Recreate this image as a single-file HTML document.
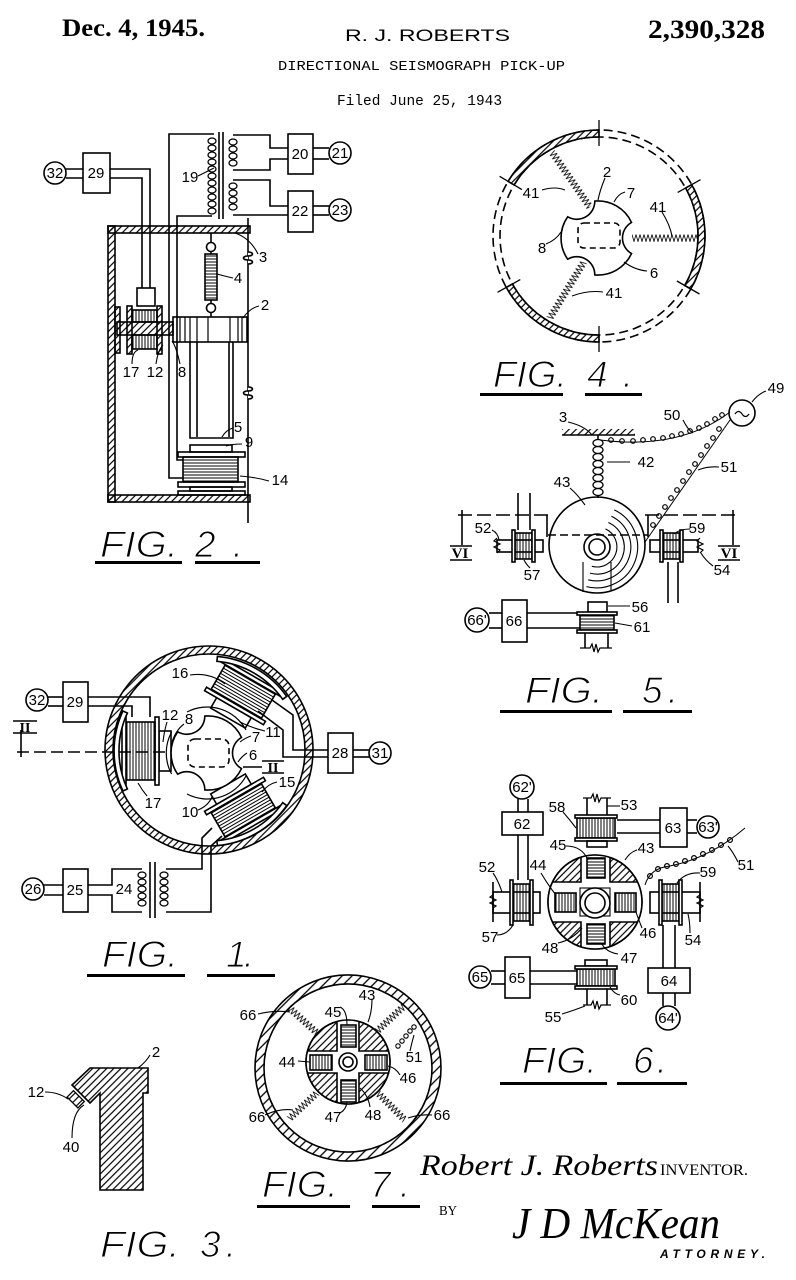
<!DOCTYPE html>
<html><head><meta charset="utf-8"><style>
html,body{margin:0;padding:0;background:#fff;}
svg{display:block;}
text{font-family:"Liberation Sans",sans-serif;fill:#000;stroke:none;}
.l{font-size:15px;text-anchor:middle;}
.fig{font-family:"Liberation Sans",sans-serif;font-style:italic;font-size:37px;stroke:#fff;stroke-width:1.1px;}
</style></head><body>
<svg width="796" height="1280" viewBox="0 0 796 1280" xmlns="http://www.w3.org/2000/svg">
<defs>
<pattern id="h" width="5" height="5" patternUnits="userSpaceOnUse" patternTransform="rotate(45)"><line x1="1" y1="0" x2="1" y2="5" stroke="#000" stroke-width="1.2"/></pattern>
<pattern id="h2" width="7" height="7" patternUnits="userSpaceOnUse" patternTransform="rotate(45)"><line x1="1" y1="0" x2="1" y2="7" stroke="#000" stroke-width="1.3"/></pattern>
<pattern id="sv" width="3" height="3" patternUnits="userSpaceOnUse"><line x1="1" y1="0" x2="1" y2="3" stroke="#000" stroke-width="1"/></pattern>
<pattern id="sh" width="3" height="3" patternUnits="userSpaceOnUse"><line x1="0" y1="1" x2="3" y2="1" stroke="#000" stroke-width="1"/></pattern>
<pattern id="zz" x="0" y="-4" width="4" height="8" patternUnits="userSpaceOnUse"><path d="M0,0.5 L2,7.5 L4,0.5" fill="none" stroke="#000" stroke-width="0.8"/></pattern>
<clipPath id="c6"><circle cx="595" cy="902" r="47"/></clipPath>
<clipPath id="c7"><circle cx="348" cy="1062" r="42"/></clipPath>
<path id="rotor" d="M-3.2,-36.9 A37,37 0 0 1 33.5,-15.6 A18,18 0 0 0 33.5,15.6 A37,37 0 0 1 -3.2,36.9 A18,18 0 0 0 -30.3,21.2 A37,37 0 0 1 -30.3,-21.2 A18,18 0 0 0 -3.2,-36.9 Z"/>
<g id="coil">
<rect x="38" y="-20" width="12" height="40" fill="#fff"/>
<rect x="50" y="-34" width="4" height="68" fill="#fff"/>
<rect x="54" y="-29" width="29" height="58" fill="url(#sv)"/>
<rect x="83" y="-34" width="4" height="68" fill="#fff"/>
<path d="M81.6,-38 A90,90 0 0 1 81.6,38 L86.1,40 A95,95 0 0 0 86.1,-40 Z" fill="#fff"/>
</g>
</defs>
<rect width="796" height="1280" fill="#fff"/>

<!-- HEADER -->
<text x="62" y="36" font-weight="bold" font-size="25" textLength="143" lengthAdjust="spacingAndGlyphs" style="font-family:'Liberation Serif',serif">Dec. 4, 1945.</text>
<text x="345" y="41" font-size="17" textLength="165" lengthAdjust="spacingAndGlyphs">R. J. ROBERTS</text>
<text x="648" y="38" font-weight="bold" font-size="26" textLength="117" lengthAdjust="spacingAndGlyphs" style="font-family:'Liberation Serif',serif">2,390,328</text>
<text x="278" y="70" font-size="14" textLength="287" lengthAdjust="spacingAndGlyphs" style="font-family:'Liberation Mono',monospace">DIRECTIONAL SEISMOGRAPH PICK-UP</text>
<text x="337" y="105" font-size="15" textLength="165" lengthAdjust="spacingAndGlyphs" style="font-family:'Liberation Mono',monospace">Filed June 25, 1943</text>

<g fill="none" stroke="#000" stroke-width="1.6">

<!-- ================= FIG 2 ================= -->
<rect x="108" y="226" width="142" height="7" fill="url(#h)"/>
<rect x="108" y="226" width="7" height="276" fill="url(#h)"/>
<rect x="108" y="495" width="142" height="7" fill="url(#h)"/>
<line x1="248" y1="218" x2="248" y2="523"/>
<path d="M248,252 c6,0 6,4 0,4 c-6,0 -6,4 0,4 c6,0 6,4 0,4" fill="#fff"/>
<path d="M248,387 c6,0 6,4 0,4 c-6,0 -6,4 0,4 c6,0 6,4 0,4" fill="#fff"/>
<rect x="115" y="307" width="5" height="46" fill="url(#h)"/>
<rect x="117" y="322" width="56" height="13" fill="url(#h)"/>
<rect x="132" y="310" width="25" height="12" fill="url(#sv)"/>
<rect x="132" y="335" width="25" height="14" fill="url(#sv)"/>
<rect x="127" y="306" width="5" height="48" fill="url(#h)"/>
<rect x="157" y="306" width="5" height="48" fill="url(#h)"/>
<rect x="137" y="288" width="18" height="18"/>
<polyline points="142,288 142,178 110,178"/>
<polyline points="150,288 150,169 110,169"/>
<rect x="83" y="153" width="27" height="40"/>
<circle cx="55" cy="173" r="11"/>
<line x1="66" y1="169" x2="83" y2="169"/><line x1="66" y1="178" x2="83" y2="178"/>
<polyline points="183,478 169,478 169,134 214,134"/>
<polyline points="183,460 177,460 177,216 212,216"/>
<g stroke-width="1.3">
<ellipse cx="212" cy="141" rx="4" ry="3"/><ellipse cx="212" cy="148" rx="4" ry="3"/><ellipse cx="212" cy="155" rx="4" ry="3"/><ellipse cx="212" cy="162" rx="4" ry="3"/><ellipse cx="212" cy="169" rx="4" ry="3"/><ellipse cx="212" cy="176" rx="4" ry="3"/><ellipse cx="212" cy="183" rx="4" ry="3"/><ellipse cx="212" cy="190" rx="4" ry="3"/><ellipse cx="212" cy="197" rx="4" ry="3"/><ellipse cx="212" cy="204" rx="4" ry="3"/><ellipse cx="212" cy="211" rx="4" ry="3"/>
<ellipse cx="233" cy="142" rx="4" ry="3"/><ellipse cx="233" cy="149" rx="4" ry="3"/><ellipse cx="233" cy="156" rx="4" ry="3"/><ellipse cx="233" cy="163" rx="4" ry="3"/>
<ellipse cx="233" cy="186" rx="4" ry="3"/><ellipse cx="233" cy="193" rx="4" ry="3"/><ellipse cx="233" cy="200" rx="4" ry="3"/><ellipse cx="233" cy="207" rx="4" ry="3"/>
</g>
<line x1="219" y1="132" x2="219" y2="219"/><line x1="223" y1="132" x2="223" y2="219"/>
<polyline points="233,135 270,135 270,148 288,148"/>
<polyline points="233,170 270,170 270,159 288,159"/>
<polyline points="233,180 270,180 270,206 288,206"/>
<polyline points="233,215 288,215"/>
<rect x="288" y="134" width="25" height="40"/>
<circle cx="340" cy="153" r="11"/>
<line x1="313" y1="148" x2="329" y2="148"/><line x1="313" y1="159" x2="329" y2="159"/>
<rect x="288" y="191" width="25" height="41"/>
<circle cx="340" cy="210" r="11"/>
<line x1="313" y1="206" x2="329" y2="206"/><line x1="313" y1="215" x2="329" y2="215"/>
<line x1="211" y1="233" x2="211" y2="242"/>
<circle cx="211" cy="247" r="4.5"/>
<line x1="211" y1="251" x2="211" y2="254"/>
<rect x="205" y="254" width="12" height="46" fill="url(#sh)"/>
<line x1="211" y1="300" x2="211" y2="304"/>
<circle cx="211" cy="308" r="4.5"/>
<line x1="211" y1="312" x2="211" y2="317"/>
<rect x="173" y="317" width="74" height="25"/>
<g stroke-width="1.2"><line x1="180" y1="317" x2="180" y2="342"/><line x1="185" y1="317" x2="185" y2="342"/><line x1="190" y1="317" x2="190" y2="342"/><line x1="197" y1="317" x2="197" y2="342"/><line x1="208" y1="317" x2="208" y2="342"/><line x1="230" y1="317" x2="230" y2="342"/><line x1="238" y1="317" x2="238" y2="342"/><line x1="242" y1="317" x2="242" y2="342"/></g>
<polyline points="190,342 190,438 233,438 233,342"/>
<line x1="197" y1="342" x2="197" y2="437"/><line x1="229" y1="342" x2="229" y2="437"/>
<rect x="190" y="445" width="42" height="7"/>
<rect x="178" y="452" width="67" height="5"/>
<rect x="183" y="457" width="55" height="25" fill="url(#sh)"/>
<rect x="178" y="482" width="67" height="5"/>
<rect x="190" y="487" width="42" height="4"/>
<rect x="178" y="491" width="67" height="4"/>
<g stroke-width="1.1">
<path d="M198,176 Q206,172 214,168"/>
<path d="M258,254 Q250,238 235,233"/>
<path d="M233,278 Q224,276 217,274"/>
<path d="M259,306 Q250,308 243,318"/>
<path d="M132,364 Q132,352 138,350"/>
<path d="M156,364 Q158,350 163,345"/>
<path d="M180,364 Q176,346 172,341"/>
<path d="M233,428 Q226,430 222,437"/>
<path d="M242,444 Q232,444 226,446"/>
<path d="M269,481 Q255,477 240,476"/>
</g>

<!-- ================= FIG 4 ================= -->
<circle cx="599" cy="236" r="106" stroke-dasharray="9 5"/>
<circle cx="599" cy="236" r="99" stroke-dasharray="9 5"/>
<path d="M508.1,181.4 A106,106 0 0 1 599,130 L599,137 A99,99 0 0 0 514.1,185 Z" fill="url(#h)"/>
<path d="M599,342 A106,106 0 0 1 506.3,287.4 L512.4,284 A99,99 0 0 0 599,335 Z" fill="url(#h)"/>
<path d="M691.7,184.6 A106,106 0 0 1 690.8,289 L684.7,285.5 A99,99 0 0 0 685.6,188 Z" fill="url(#h)"/>
<g stroke-width="1.3">
<line x1="599" y1="146" x2="599" y2="120"/><line x1="599" y1="326" x2="599" y2="352"/>
<line x1="521.9" y1="189.6" x2="499.6" y2="176.3"/><line x1="520.3" y1="279.6" x2="497.5" y2="292.3"/>
<line x1="677.7" y1="192.4" x2="700.5" y2="179.7"/><line x1="676.9" y1="281" x2="699.5" y2="294"/>
</g>
<use href="#rotor" transform="translate(598,238)" fill="#fff"/>
<rect x="578" y="223" width="42" height="25" rx="6" stroke-dasharray="6 4"/>
<rect x="0" y="-4" width="67" height="8" fill="url(#zz)" stroke="none" transform="translate(552,152) rotate(55.4)"/>
<rect x="0" y="-4" width="65" height="8" fill="url(#zz)" stroke="none" transform="translate(632,238)"/>
<rect x="0" y="-4" width="66" height="8" fill="url(#zz)" stroke="none" transform="translate(584,262) rotate(121.3)"/>
<g stroke-width="1.1">
<path d="M605,178 Q600,190 598,200"/>
<path d="M625,192 Q618,194 614,202"/>
<path d="M542,190 Q555,186 565,190"/>
<path d="M662,212 Q670,225 672,236"/>
<path d="M546,244 Q556,240 561,232"/>
<path d="M647,271 Q635,270 624,262"/>
<path d="M603,292 Q588,290 572,296"/>
</g>

<!-- ================= FIG 5 ================= -->
<line x1="562" y1="435" x2="635" y2="435"/>
<rect x="562" y="429" width="73" height="6" fill="url(#h)" stroke="none"/>
<path d="M568,422 Q585,426 592,435" stroke-width="1.1"/>
<line x1="598" y1="435" x2="598" y2="440"/>
<g stroke-width="1.3">
<ellipse cx="598" cy="443" rx="5" ry="3.5"/><ellipse cx="598" cy="450" rx="5" ry="3.5"/><ellipse cx="598" cy="457" rx="5" ry="3.5"/><ellipse cx="598" cy="464" rx="5" ry="3.5"/><ellipse cx="598" cy="471" rx="5" ry="3.5"/><ellipse cx="598" cy="478" rx="5" ry="3.5"/><ellipse cx="598" cy="485" rx="5" ry="3.5"/><ellipse cx="598" cy="492" rx="5" ry="3.5"/>
</g>
<line x1="598" y1="495" x2="598" y2="498"/>
<path d="M607,462 L630,462" stroke-width="1.1"/>
<circle cx="742" cy="413" r="13"/>
<path d="M735,414 q3.5,-5 7,0 q3.5,5 7,0" stroke-width="1.2"/>
<path d="M752,402 Q758,394 766,391" stroke-width="1.1"/>
<path d="M600,440 Q680,450 730,412" stroke-width="1"/>
<g stroke-width="1.2">
<circle cx="611" cy="440" r="2.3"/><circle cx="622" cy="441" r="2.3"/><circle cx="633" cy="441" r="2.3"/><circle cx="643" cy="440" r="2.3"/><circle cx="653" cy="439" r="2.3"/><circle cx="663" cy="438" r="2.3"/><circle cx="672" cy="436" r="2.3"/><circle cx="681" cy="434" r="2.3"/><circle cx="690" cy="431" r="2.3"/><circle cx="699" cy="428" r="2.3"/><circle cx="707" cy="424" r="2.3"/><circle cx="715" cy="419" r="2.3"/><circle cx="722" cy="415" r="2.3"/>
</g>
<path d="M683,420 Q688,430 693,433" stroke-width="1.1"/>
<path d="M730,420 L645,542" stroke-width="1"/>
<g stroke-width="1.2">
<circle cx="719" cy="429" r="2.3"/><circle cx="713" cy="438" r="2.3"/><circle cx="707" cy="446" r="2.3"/><circle cx="701" cy="455" r="2.3"/><circle cx="695" cy="464" r="2.3"/><circle cx="689" cy="472" r="2.3"/><circle cx="683" cy="481" r="2.3"/><circle cx="677" cy="490" r="2.3"/><circle cx="671" cy="498" r="2.3"/><circle cx="665" cy="507" r="2.3"/><circle cx="659" cy="516" r="2.3"/><circle cx="653" cy="525" r="2.3"/>
</g>
<path d="M719,467 Q708,466 698,470" stroke-width="1.1"/>
<circle cx="597" cy="545" r="48"/>
<circle cx="597" cy="547" r="13"/><circle cx="597" cy="547" r="8"/>
<g stroke-width="1.1">
<path d="M605.5,528.9 A20,20 0 0 1 591.8,566.3"/>
<path d="M608.4,522.5 A27,27 0 0 1 590,573.1"/>
<path d="M611.4,516.2 A34,34 0 0 1 588.2,579.8"/>
<path d="M614.3,509.9 A41,41 0 0 1 586.4,586.6"/>
<line x1="583" y1="562" x2="583" y2="592"/><line x1="611" y1="562" x2="611" y2="591"/>
</g>
<path d="M570,488 Q578,495 585,505" stroke-width="1.1"/>
<line x1="548" y1="535" x2="648" y2="535" stroke-dasharray="8 4"/>
<line x1="458" y1="515" x2="550" y2="515" stroke-dasharray="14 5"/>
<line x1="547" y1="515" x2="547" y2="537"/>
<line x1="462" y1="510" x2="462" y2="545"/>
<line x1="645" y1="515" x2="735" y2="515" stroke-dasharray="14 5"/>
<line x1="648" y1="515" x2="648" y2="537"/>
<line x1="733" y1="510" x2="733" y2="545"/>
<line x1="450" y1="546" x2="472" y2="546"/><line x1="450" y1="560" x2="472" y2="560"/>
<line x1="718" y1="546" x2="740" y2="546"/><line x1="718" y1="560" x2="740" y2="560"/>
<rect x="497" y="540" width="46" height="12" fill="#fff"/>
<rect x="515" y="533" width="17" height="26" fill="url(#sv)"/>
<rect x="512" y="530" width="3" height="32" fill="#fff"/><rect x="532" y="530" width="3" height="32" fill="#fff"/>
<line x1="518" y1="493" x2="518" y2="530"/><line x1="530" y1="493" x2="530" y2="530"/>
<path d="M497,538 l-3,3 l6,3 l-6,3 l6,3 l-3,3" stroke-width="1.2"/>
<path d="M492,530 Q498,533 499,540" stroke-width="1.1"/>
<path d="M530,568 Q526,564 524,560" stroke-width="1.1"/>
<rect x="650" y="540" width="48" height="12" fill="#fff"/>
<rect x="663" y="533" width="17" height="26" fill="url(#sv)"/>
<rect x="660" y="530" width="3" height="32" fill="#fff"/><rect x="680" y="530" width="3" height="32" fill="#fff"/>
<line x1="668" y1="562" x2="668" y2="603"/><line x1="678" y1="562" x2="678" y2="603"/>
<path d="M700,538 l-3,3 l6,3 l-6,3 l6,3 l-3,3" stroke-width="1.2"/>
<path d="M690,529 Q680,529 674,534" stroke-width="1.1"/>
<path d="M713,566 Q705,560 701,553" stroke-width="1.1"/>
<rect x="502" y="600" width="25" height="42"/>
<circle cx="477" cy="620" r="12"/>
<line x1="489" y1="613" x2="502" y2="613"/><line x1="489" y1="628" x2="502" y2="628"/>
<line x1="527" y1="613" x2="580" y2="613"/><line x1="527" y1="628" x2="580" y2="628"/>
<rect x="588" y="602" width="19" height="10"/>
<rect x="580" y="615" width="34" height="15" fill="url(#sh)"/>
<rect x="577" y="612" width="40" height="3" fill="#fff"/><rect x="577" y="630" width="40" height="3" fill="#fff"/>
<line x1="585" y1="633" x2="585" y2="648"/><line x1="608" y1="633" x2="608" y2="648"/>
<path d="M580,648 L590,648 l2,-4 l2,8 l2,-8 l2,8 l2,-4 L612,648" stroke-width="1.2"/>
<path d="M630,606 L608,606" stroke-width="1.1"/>
<path d="M632,626 L615,623" stroke-width="1.1"/>

<!-- ================= FIG 1 ================= -->
<path fill-rule="evenodd" fill="url(#h)" d="M105,750 a104,104 0 1,0 208,0 a104,104 0 1,0 -208,0 Z M113,750 a96,96 0 1,0 192,0 a96,96 0 1,0 -192,0 Z"/>
<use href="#coil" transform="translate(209,751) rotate(180)"/>
<use href="#coil" transform="translate(209,751) rotate(-60)"/>
<use href="#coil" transform="translate(209,751) rotate(60)"/>
<g stroke-width="1.2">
<path d="M171.6,774 A44,44 0 0 1 171.6,732"/>
<path d="M187,712 A44,44 0 0 1 246,730"/>
<path d="M246,776 A44,44 0 0 1 187,794"/>
</g>
<use href="#rotor" transform="translate(208,753)" fill="#fff"/>
<rect x="188" y="739" width="41" height="28" rx="7" stroke-dasharray="6 4"/>
<rect x="63" y="682" width="25" height="40"/>
<circle cx="37" cy="700" r="11"/>
<line x1="48" y1="697" x2="63" y2="697"/><line x1="48" y1="706" x2="63" y2="706"/>
<polyline points="88,697 150,697 150,717"/>
<polyline points="88,706 132,706 132,717"/>
<rect x="328" y="733" width="25" height="40"/>
<circle cx="380" cy="753" r="11"/>
<line x1="353" y1="750" x2="369" y2="750"/><line x1="353" y1="757" x2="369" y2="757"/>
<polyline points="272,700 293,715 293,750 328,750"/>
<polyline points="258,711 283,730 283,757 328,757"/>
<line x1="21" y1="730" x2="21" y2="757"/>
<line x1="17" y1="752" x2="170" y2="752" stroke-dasharray="12 5"/>
<line x1="243" y1="767" x2="262" y2="767"/>
<line x1="13" y1="721" x2="37" y2="721"/><line x1="13" y1="733" x2="37" y2="733"/>
<line x1="262" y1="761" x2="284" y2="761"/><line x1="262" y1="773" x2="284" y2="773"/>
<rect x="63" y="869" width="25" height="43"/>
<circle cx="33" cy="889" r="11"/>
<line x1="44" y1="885" x2="63" y2="885"/><line x1="44" y1="895" x2="63" y2="895"/>
<polyline points="88,885 112,885 112,869 142,869"/>
<polyline points="88,895 112,895 112,912 142,912"/>
<g stroke-width="1.3">
<ellipse cx="142" cy="875" rx="4" ry="3"/><ellipse cx="142" cy="882" rx="4" ry="3"/><ellipse cx="142" cy="889" rx="4" ry="3"/><ellipse cx="142" cy="896" rx="4" ry="3"/><ellipse cx="142" cy="903" rx="4" ry="3"/>
<ellipse cx="164" cy="875" rx="4" ry="3"/><ellipse cx="164" cy="882" rx="4" ry="3"/><ellipse cx="164" cy="889" rx="4" ry="3"/><ellipse cx="164" cy="896" rx="4" ry="3"/><ellipse cx="164" cy="903" rx="4" ry="3"/>
</g>
<line x1="150" y1="862" x2="150" y2="918"/><line x1="155" y1="862" x2="155" y2="918"/>
<polyline points="166,869 202,869 202,838 212,828"/>
<polyline points="166,912 211,912 211,846 222,836"/>
<g stroke-width="1.1">
<path d="M190,675 Q210,672 225,684"/>
<path d="M167,722 Q164,732 163,742"/>
<path d="M184,724 Q176,730 172,742"/>
<path d="M265,731 Q252,728 240,722"/>
<path d="M251,736 Q245,738 240,742"/>
<path d="M247,753 Q242,756 238,762"/>
<path d="M277,782 Q268,784 262,792"/>
<path d="M147,796 Q142,790 138,783"/>
<path d="M198,810 Q208,806 212,797"/>
</g>

<!-- ================= FIG 6 ================= -->
<circle cx="595" cy="902" r="47" fill="url(#h)"/>
<polygon clip-path="url(#c6)" fill="#fff" points="581,850 610,850 610,882 645,882 645,922 610,922 610,955 581,955 581,922 545,922 545,882 581,882"/>
<circle cx="595" cy="902" r="47"/>
<rect x="587" y="858" width="18" height="20" fill="url(#sh)"/>
<rect x="587" y="924" width="18" height="20" fill="url(#sh)"/>
<rect x="555" y="893" width="21" height="19" fill="url(#sv)"/>
<rect x="615" y="893" width="21" height="19" fill="url(#sv)"/>
<rect x="580" y="888" width="30" height="28" stroke-width="1.1"/>
<circle cx="595" cy="903" r="15" fill="#fff"/><circle cx="595" cy="903" r="10"/>
<rect x="493" y="892" width="47" height="21" fill="#fff"/>
<rect x="513" y="884" width="17" height="37" fill="url(#sv)"/>
<rect x="510" y="880" width="3" height="45" fill="#fff"/><rect x="530" y="880" width="3" height="45" fill="#fff"/>
<line x1="518" y1="835" x2="518" y2="880"/><line x1="528" y1="835" x2="528" y2="880"/>
<line x1="493" y1="882" x2="493" y2="922"/>
<path d="M493,895 l-3,2 l6,3 l-6,3 l6,3 l-3,2" stroke-width="1.2"/>
<rect x="502" y="812" width="41" height="23"/>
<circle cx="522" cy="787" r="12"/>
<line x1="518" y1="799" x2="518" y2="812"/><line x1="528" y1="799" x2="528" y2="812"/>
<rect x="577" y="818" width="38" height="20" fill="url(#sv)"/>
<rect x="575" y="815" width="42" height="3" fill="#fff"/><rect x="575" y="838" width="42" height="3" fill="#fff"/>
<rect x="587" y="841" width="20" height="6"/>
<line x1="587" y1="798" x2="587" y2="815"/><line x1="607" y1="798" x2="607" y2="815"/>
<path d="M583,798 L591,798 l2,-4 l2,8 l2,-8 l2,8 l2,-4 L611,798" stroke-width="1.2"/>
<line x1="617" y1="820" x2="660" y2="820"/><line x1="617" y1="833" x2="660" y2="833"/>
<rect x="660" y="808" width="27" height="39"/>
<circle cx="708" cy="827" r="11"/>
<line x1="687" y1="820" x2="697" y2="820"/><line x1="687" y1="833" x2="697" y2="833"/>
<rect x="650" y="892" width="50" height="21" fill="#fff"/>
<rect x="662" y="884" width="17" height="37" fill="url(#sv)"/>
<rect x="659" y="880" width="3" height="45" fill="#fff"/><rect x="679" y="880" width="3" height="45" fill="#fff"/>
<line x1="700" y1="882" x2="700" y2="922"/>
<path d="M700,895 l-3,2 l6,3 l-6,3 l6,3 l-3,2" stroke-width="1.2"/>
<line x1="663" y1="925" x2="663" y2="968"/><line x1="675" y1="925" x2="675" y2="968"/>
<rect x="648" y="968" width="42" height="25"/>
<circle cx="668" cy="1018" r="12"/>
<line x1="663" y1="993" x2="663" y2="1006"/><line x1="675" y1="993" x2="675" y2="1006"/>
<rect x="585" y="960" width="22" height="6"/>
<rect x="577" y="969" width="38" height="17" fill="url(#sv)"/>
<rect x="575" y="966" width="42" height="3" fill="#fff"/><rect x="575" y="986" width="42" height="3" fill="#fff"/>
<line x1="587" y1="989" x2="587" y2="1005"/><line x1="607" y1="989" x2="607" y2="1005"/>
<path d="M583,1005 L591,1005 l2,-4 l2,8 l2,-8 l2,8 l2,-4 L611,1005" stroke-width="1.2"/>
<line x1="530" y1="971" x2="577" y2="971"/><line x1="530" y1="984" x2="577" y2="984"/>
<rect x="505" y="957" width="25" height="41"/>
<circle cx="480" cy="977" r="11"/>
<line x1="491" y1="971" x2="505" y2="971"/><line x1="491" y1="984" x2="505" y2="984"/>
<path d="M645,885 Q650,868 670,866 Q710,858 745,828" stroke-width="1"/>
<g stroke-width="1.2">
<circle cx="650" cy="876" r="2.4"/><circle cx="658" cy="869" r="2.4"/><circle cx="667" cy="866" r="2.4"/><circle cx="676" cy="864" r="2.4"/><circle cx="685" cy="861" r="2.4"/><circle cx="694" cy="858" r="2.4"/><circle cx="703" cy="854" r="2.4"/><circle cx="712" cy="850" r="2.4"/><circle cx="721" cy="845" r="2.4"/><circle cx="730" cy="840" r="2.4"/>
</g>
<g stroke-width="1.1">
<path d="M493,873 Q498,880 502,892"/>
<path d="M497,935 Q507,935 513,925"/>
<path d="M563,812 Q570,820 576,828"/>
<path d="M620,806 L607,806"/>
<path d="M566,846 Q582,846 588,860"/>
<path d="M637,850 Q630,852 625,860"/>
<path d="M738,862 Q733,852 728,846"/>
<path d="M541,873 Q548,885 556,895"/>
<path d="M700,873 Q685,872 677,883"/>
<path d="M690,933 Q690,922 688,914"/>
<path d="M558,943 Q572,940 582,928"/>
<path d="M642,928 Q638,918 636,912"/>
<path d="M618,954 Q606,952 602,944"/>
<path d="M620,995 Q614,994 610,987"/>
<path d="M562,1014 Q575,1010 585,1006"/>
</g>

<!-- ================= FIG 7 ================= -->
<path fill-rule="evenodd" fill="url(#h2)" d="M255,1068 a93,93 0 1,0 186,0 a93,93 0 1,0 -186,0 Z M264,1068 a84,84 0 1,0 168,0 a84,84 0 1,0 -168,0 Z"/>
<circle cx="348" cy="1062" r="42" fill="url(#h)"/>
<polygon clip-path="url(#c7)" fill="#fff" points="337,1015 359,1015 359,1051 395,1051 395,1073 359,1073 359,1109 337,1109 337,1073 301,1073 301,1051 337,1051"/>
<circle cx="348" cy="1062" r="42"/>
<rect x="341" y="1025" width="15" height="22" fill="url(#sh)"/>
<rect x="341" y="1080" width="15" height="22" fill="url(#sh)"/>
<rect x="310" y="1055" width="22" height="15" fill="url(#sv)"/>
<rect x="365" y="1055" width="22" height="15" fill="url(#sv)"/>
<circle cx="348" cy="1062" r="9" fill="#fff"/><circle cx="348" cy="1062" r="5"/>
<rect x="0" y="-4" width="38" height="8" fill="url(#zz)" stroke="none" transform="translate(317,1033) rotate(-138)"/>
<rect x="0" y="-4" width="38" height="8" fill="url(#zz)" stroke="none" transform="translate(377,1031) rotate(-43)"/>
<rect x="0" y="-4" width="38" height="8" fill="url(#zz)" stroke="none" transform="translate(317,1093) rotate(137)"/>
<rect x="0" y="-4" width="38" height="8" fill="url(#zz)" stroke="none" transform="translate(378,1093) rotate(45)"/>
<g stroke-width="1.1">
<circle cx="398" cy="1046" r="2.2"/><circle cx="402" cy="1041" r="2.2"/><circle cx="406" cy="1036" r="2.2"/><circle cx="410" cy="1031" r="2.2"/><circle cx="414" cy="1027" r="2.2"/>
<path d="M258,1014 Q275,1010 290,1012"/>
<path d="M340,1007 Q347,1010 347,1025"/>
<path d="M372,999 Q372,1012 368,1022"/>
<path d="M410,1051 Q412,1042 414,1035"/>
<path d="M298,1061 L310,1062"/>
<path d="M400,1075 Q396,1068 388,1066"/>
<path d="M265,1115 Q280,1108 293,1110"/>
<path d="M340,1113 Q346,1110 347,1102"/>
<path d="M370,1107 Q368,1095 360,1088"/>
<path d="M432,1115 Q420,1114 408,1118"/>
</g>

<!-- ================= FIG 3 ================= -->
<polygon fill="url(#h)" points="90,1068 148,1068 148,1093 143,1093 143,1190 100,1190 100,1093 90,1103 72,1085"/>
<polygon fill="url(#h)" points="73.5,1090.7 84.3,1101.5 77.9,1107.9 67.1,1097.1" stroke-width="1.3"/>
<g stroke-width="1.1">
<path d="M150,1055 Q146,1062 138,1068"/>
<path d="M45,1092 Q58,1092 68,1099"/>
<path d="M72,1138 Q72,1112 84,1105"/>
</g>
</g>

<!-- ===== labels ===== -->
<g>
<text class="l" x="55" y="178" font-size="13">32</text>
<text class="l" x="96" y="178">29</text>
<text class="l" x="300" y="159">20</text>
<text class="l" x="340" y="158" font-size="13">21</text>
<text class="l" x="300" y="216">22</text>
<text class="l" x="340" y="215" font-size="13">23</text>
<text class="l" x="190" y="182">19</text>
<text class="l" x="263" y="262">3</text>
<text class="l" x="238" y="283">4</text>
<text class="l" x="265" y="310">2</text>
<text class="l" x="131" y="377">17</text>
<text class="l" x="155" y="377">12</text>
<text class="l" x="182" y="377">8</text>
<text class="l" x="238" y="432">5</text>
<text class="l" x="249" y="447">9</text>
<text class="l" x="280" y="485">14</text>

<text class="l" x="607" y="177">2</text>
<text class="l" x="631" y="198">7</text>
<text class="l" x="531" y="198">41</text>
<text class="l" x="658" y="212">41</text>
<text class="l" x="542" y="253">8</text>
<text class="l" x="654" y="278">6</text>
<text class="l" x="614" y="298">41</text>

<text class="l" x="563" y="422">3</text>
<text class="l" x="672" y="420">50</text>
<text class="l" x="776" y="393">49</text>
<text class="l" x="646" y="467">42</text>
<text class="l" x="729" y="472">51</text>
<text class="l" x="562" y="487">43</text>
<text class="l" x="483" y="533">52</text>
<text class="l" x="697" y="533">59</text>
<text class="l" x="532" y="580">57</text>
<text class="l" x="722" y="575">54</text>
<text class="l" x="640" y="612">56</text>
<text class="l" x="642" y="632">61</text>
<text class="l" x="477" y="625" font-size="13">66'</text>
<text class="l" x="514" y="626">66</text>
<text x="460" y="558" font-size="15" font-weight="bold" text-anchor="middle" style="font-family:'Liberation Serif',serif">VI</text>
<text x="729" y="558" font-size="15" font-weight="bold" text-anchor="middle" style="font-family:'Liberation Serif',serif">VI</text>

<text class="l" x="37" y="705" font-size="13">32</text>
<text class="l" x="75" y="707">29</text>
<text class="l" x="340" y="758">28</text>
<text class="l" x="380" y="758" font-size="13">31</text>
<text class="l" x="33" y="894" font-size="13">26</text>
<text class="l" x="75" y="895">25</text>
<text class="l" x="124" y="894">24</text>
<text class="l" x="180" y="678">16</text>
<text class="l" x="170" y="720">12</text>
<text class="l" x="189" y="724">8</text>
<text class="l" x="273" y="737">11</text>
<text class="l" x="256" y="742">7</text>
<text class="l" x="253" y="760">6</text>
<text class="l" x="287" y="787">15</text>
<text class="l" x="153" y="808">17</text>
<text class="l" x="190" y="817">10</text>
<text x="25" y="732" font-size="14" font-weight="bold" text-anchor="middle" style="font-family:'Liberation Serif',serif">II</text>
<text x="273" y="772" font-size="14" font-weight="bold" text-anchor="middle" style="font-family:'Liberation Serif',serif">II</text>

<text class="l" x="522" y="792" font-size="13">62'</text>
<text class="l" x="522" y="829">62</text>
<text class="l" x="673" y="833">63</text>
<text class="l" x="708" y="832" font-size="13">63'</text>
<text class="l" x="669" y="986">64</text>
<text class="l" x="668" y="1023" font-size="13">64'</text>
<text class="l" x="517" y="983">65</text>
<text class="l" x="480" y="982" font-size="13">65</text>
<text class="l" x="557" y="812">58</text>
<text class="l" x="629" y="810">53</text>
<text class="l" x="558" y="850">45</text>
<text class="l" x="646" y="853">43</text>
<text class="l" x="746" y="870">51</text>
<text class="l" x="487" y="872">52</text>
<text class="l" x="538" y="870">44</text>
<text class="l" x="708" y="877">59</text>
<text class="l" x="490" y="942">57</text>
<text class="l" x="550" y="953">48</text>
<text class="l" x="648" y="938">46</text>
<text class="l" x="693" y="945">54</text>
<text class="l" x="629" y="963">47</text>
<text class="l" x="629" y="1005">60</text>
<text class="l" x="553" y="1022">55</text>

<text class="l" x="248" y="1020">66</text>
<text class="l" x="333" y="1017">45</text>
<text class="l" x="367" y="1000">43</text>
<text class="l" x="414" y="1062">51</text>
<text class="l" x="287" y="1067">44</text>
<text class="l" x="408" y="1083">46</text>
<text class="l" x="257" y="1122">66</text>
<text class="l" x="333" y="1122">47</text>
<text class="l" x="373" y="1120">48</text>
<text class="l" x="442" y="1120">66</text>

<text class="l" x="156" y="1057">2</text>
<text class="l" x="36" y="1097">12</text>
<text class="l" x="71" y="1152">40</text>
</g>

<!-- FIG titles -->
<text class="fig" x="100" y="557" textLength="78" lengthAdjust="spacingAndGlyphs">FIG.</text>
<text class="fig" x="195" y="557" textLength="48" lengthAdjust="spacing">2.</text>
<rect x="95" y="561" width="87" height="3" fill="#000"/><rect x="195" y="561" width="65" height="3" fill="#000"/>

<text class="fig" x="493" y="387" textLength="74" lengthAdjust="spacingAndGlyphs">FIG.</text>
<text class="fig" x="587" y="387" textLength="46" lengthAdjust="spacing">4.</text>
<rect x="480" y="393" width="83" height="3" fill="#000"/><rect x="585" y="393" width="57" height="3" fill="#000"/>

<text class="fig" x="525" y="703" textLength="78" lengthAdjust="spacingAndGlyphs">FIG.</text>
<text class="fig" x="642" y="703" textLength="36" lengthAdjust="spacing">5.</text>
<rect x="500" y="710" width="112" height="3" fill="#000"/><rect x="623" y="710" width="69" height="3" fill="#000"/>

<text class="fig" x="102" y="967" textLength="76" lengthAdjust="spacingAndGlyphs">FIG.</text>
<text class="fig" x="226" y="967" textLength="28" lengthAdjust="spacing">1.</text>
<rect x="87" y="974" width="98" height="3" fill="#000"/><rect x="207" y="974" width="68" height="3" fill="#000"/>

<text class="fig" x="522" y="1073" textLength="75" lengthAdjust="spacingAndGlyphs">FIG.</text>
<text class="fig" x="633" y="1073" textLength="34" lengthAdjust="spacing">6.</text>
<rect x="500" y="1082" width="107" height="3" fill="#000"/><rect x="617" y="1082" width="70" height="3" fill="#000"/>

<text class="fig" x="262" y="1197" textLength="76" lengthAdjust="spacingAndGlyphs">FIG.</text>
<text class="fig" x="370" y="1197" textLength="40" lengthAdjust="spacing">7.</text>
<rect x="257" y="1205" width="93" height="3" fill="#000"/><rect x="372" y="1205" width="48" height="3" fill="#000"/>

<text class="fig" x="100" y="1257" textLength="80" lengthAdjust="spacingAndGlyphs">FIG.</text>
<text class="fig" x="200" y="1257" textLength="36" lengthAdjust="spacing">3.</text>

<!-- signatures -->
<text x="420" y="1175" font-size="30" font-style="italic" textLength="238" lengthAdjust="spacingAndGlyphs" style="font-family:'Liberation Serif',serif">Robert J. Roberts</text>
<text x="660" y="1175" font-size="16" textLength="88" lengthAdjust="spacingAndGlyphs" style="font-family:'Liberation Serif',serif">INVENTOR.</text>
<text x="439" y="1215" font-size="14" textLength="18" lengthAdjust="spacingAndGlyphs" style="font-family:'Liberation Serif',serif">BY</text>
<text x="512" y="1238" font-size="44" font-style="italic" textLength="208" lengthAdjust="spacingAndGlyphs" style="font-family:'Liberation Serif',serif">J D McKean</text>
<text x="660" y="1258" font-size="12" font-weight="bold" font-style="italic" textLength="105" lengthAdjust="spacing">ATTORNEY.</text>
</svg>
</body></html>
